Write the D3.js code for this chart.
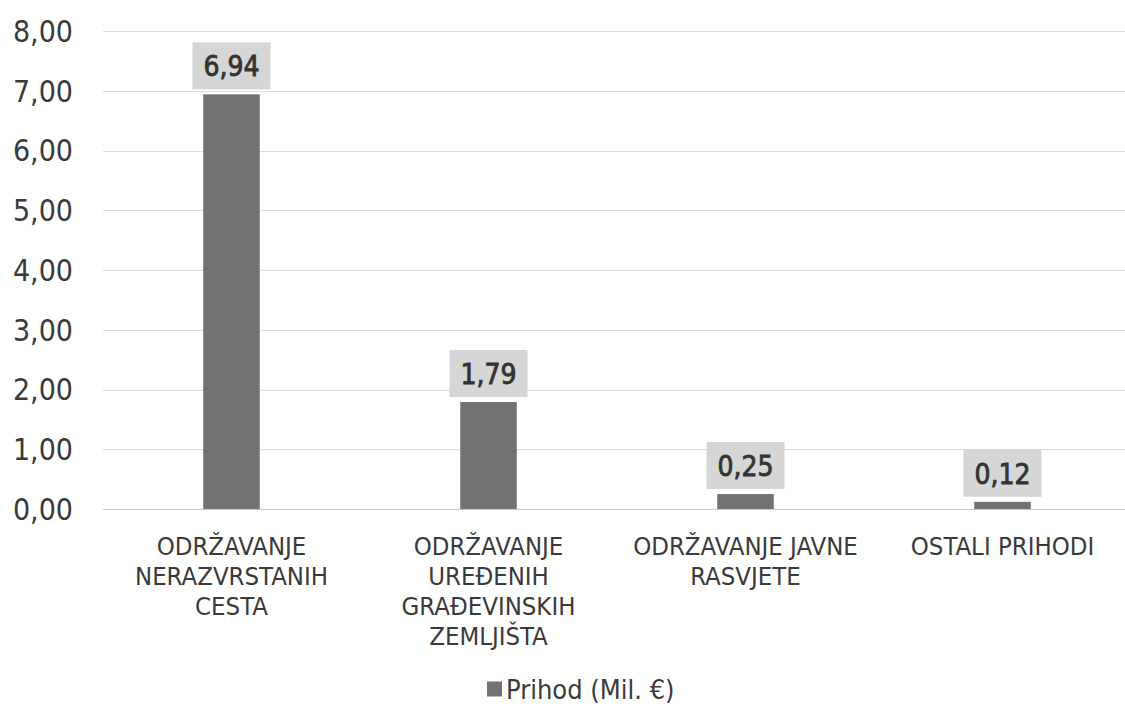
<!DOCTYPE html>
<html>
<head>
<meta charset="utf-8">
<script src="https://cdn.jsdelivr.net/npm/d3@7"></script>
<style>
  body { margin: 0; background: #fff; }
  svg { display: block; }
  text { font-family: "DejaVu Sans Condensed", "Liberation Sans Narrow", "Noto Sans", sans-serif; fill: #3a3a3a; }
</style>
</head>
<body>
<svg id="chart"></svg>
<script>
const categories = ['c1', 'c2', 'c3', 'c4'];
const categoryLines = [
    ['ODRŽAVANJE', 'NERAZVRSTANIH', 'CESTA'],
    ['ODRŽAVANJE', 'UREĐENIH', 'GRAĐEVINSKIH', 'ZEMLJIŠTA'],
    ['ODRŽAVANJE JAVNE', 'RASVJETE'],
    ['OSTALI PRIHODI']
];
const values = [6.94, 1.79, 0.25, 0.12];
const yTicks = [0, 1, 2, 3, 4, 5, 6, 7, 8];
const seriesName = 'Prihod (Mil. €)';

const width = 1125, height = 706;
const fmt = v => v.toFixed(2).replace('.', ',');
const barColor = '#727272';

const svg = d3.select('#chart').attr('width', width).attr('height', height);

const x = d3.scaleBand()
    .domain(categories)
    .range([103, 1131])
    .paddingInner(0.78)
    .paddingOuter(0.39);

const y = d3.scaleLinear().domain([0, 8]).range([509, 31]);

// gridlines
svg.append('g')
    .selectAll('line')
    .data(yTicks)
    .join('line')
    .attr('x1', 103)
    .attr('x2', width)
    .attr('y1', d => Math.round(y(d)) + 0.5)
    .attr('y2', d => Math.round(y(d)) + 0.5)
    .attr('stroke', d => d === 0 ? '#c8c8c8' : '#dcdcdc')
    .attr('stroke-width', 1.2);

// y tick labels
svg.append('g')
    .selectAll('text')
    .data(yTicks)
    .join('text')
    .attr('x', 73)
    .attr('y', d => y(d))
    .attr('dy', '0.36em')
    .attr('text-anchor', 'end')
    .style('font-size', '30px')
    .text(fmt);

// bars
svg.append('g')
    .selectAll('rect')
    .data(values)
    .join('rect')
    .attr('x', (d, i) => x(categories[i]))
    .attr('width', x.bandwidth())
    .attr('y', d => y(d))
    .attr('height', d => y(0) - y(d))
    .attr('fill', barColor);

// data labels with grey boxes
const labels = svg.append('g')
    .selectAll('g')
    .data(values)
    .join('g')
    .attr('transform', (d, i) => `translate(${x(categories[i]) + x.bandwidth() / 2},${y(d) - 5})`);

labels.append('rect')
    .attr('x', -39)
    .attr('y', -47)
    .attr('width', 78)
    .attr('height', 47)
    .attr('fill', '#d6d6d6');

labels.append('text')
    .attr('y', -23)
    .attr('dy', '0.36em')
    .attr('text-anchor', 'middle')
    .style('font-size', '28px')
    .style('fill', '#333')
    .style('stroke', '#333')
    .style('stroke-width', '0.8px')
    .text(fmt);

// category labels
const cats = svg.append('g')
    .selectAll('text')
    .data(categoryLines)
    .join('text')
    .attr('text-anchor', 'middle')
    .attr('x', (d, i) => x(categories[i]) + x.bandwidth() / 2)
    .attr('y', 546)
    .style('font-size', '25.5px');

cats.selectAll('tspan')
    .data(d => d)
    .join('tspan')
    .attr('x', function() { return d3.select(this.parentNode).attr('x'); })
    .attr('dy', (d, i) => i === 0 ? '0.36em' : '30px')
    .text(d => d);

// legend
const legend = svg.append('g').attr('transform', 'translate(487,689)');
legend.append('rect')
    .attr('x', 0).attr('y', -7.5)
    .attr('width', 15).attr('height', 15)
    .attr('fill', barColor);
legend.append('text')
    .attr('x', 19)
    .attr('dy', '0.36em')
    .style('font-size', '27px')
    .text(seriesName);
</script>
</body>
</html>
